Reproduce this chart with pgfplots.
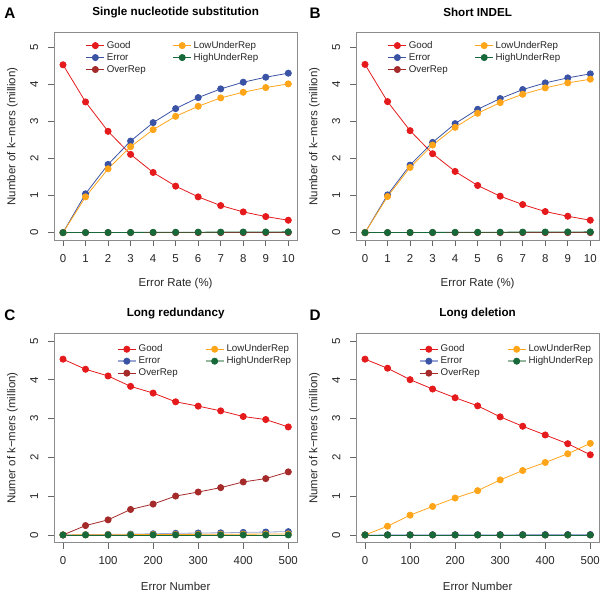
\documentclass[border=0pt]{standalone}
\usepackage{fontspec}
\setmainfont{Liberation Sans}
\usepackage{pgfplots}
\usepackage{pgfplotstable}
\pgfplotsset{compat=1.18}
\definecolor{cGood}{HTML}{E41A1C}
\definecolor{cErr}{HTML}{3A53A4}
\definecolor{cErrL}{HTML}{9AA6D6}
\definecolor{cOver}{HTML}{A52A2A}
\definecolor{cLow}{HTML}{FFA51A}
\definecolor{cHigh}{HTML}{17693A}
\definecolor{cHighL}{HTML}{93B89E}

\pgfplotstableread{
x good error over low high
0 4.54 0 0 0 0
1 3.535 1.05 0 0.967 0.002
2 2.74 1.845 0 1.727 0.004
3 2.116 2.477 0 2.324 0.006
4 1.627 2.975 0 2.785 0.008
5 1.257 3.354 0 3.146 0.010
6 0.967 3.653 0 3.418 0.012
7 0.732 3.888 0 3.644 0.014
8 0.56 4.069 0 3.797 0.016
9 0.434 4.204 0 3.924 0.018
10 0.335 4.313 0 4.023 0.020
}\tabA
\pgfplotstableread{
x good error over low high
0 4.55 0 0 0 0
1 3.544 1.02 0 0.976 0.002
2 2.758 1.826 0 1.763 0.004
3 2.134 2.44 0 2.369 0.006
4 1.655 2.948 0 2.848 0.008
5 1.275 3.336 0 3.228 0.010
6 0.986 3.626 0 3.517 0.012
7 0.759 3.87 0 3.743 0.014
8 0.57 4.05 0 3.915 0.016
9 0.443 4.186 0 4.05 0.018
10 0.335 4.295 0 4.15 0.020
}\tabB
\pgfplotstableread{
x good error over low high
0 4.533 0 0 0 0
50 4.273 0.008 0.242 0.003 0
100 4.10 0.015 0.389 0.005 0
150 3.832 0.022 0.657 0.008 0
200 3.659 0.030 0.796 0.010 0
250 3.434 0.042 1.003 0.013 0
300 3.322 0.050 1.107 0.015 0
350 3.2 0.055 1.22 0.018 0
400 3.054 0.065 1.367 0.020 0
450 2.976 0.075 1.453 0.023 0
500 2.785 0.085 1.626 0.025 0
}\tabC
\pgfplotstableread{
x good error over low high
0 4.533 0 0 0 0
50 4.3 0.002 0 0.225 0
100 4.005 0.003 0 0.51 0
150 3.763 0.004 0 0.735 0
200 3.538 0.005 0 0.952 0
250 3.33 0.006 0 1.142 0
300 3.045 0.007 0 1.419 0
350 2.803 0.008 0 1.661 0
400 2.578 0.009 0 1.869 0
450 2.353 0.010 0 2.093 0
500 2.067 0.010 0 2.362 0
}\tabD

\pgfplotsset{
  Rax/.style={
    scale only axis, width=243.3bp,
    axis line style={black!45, line width=0.8pt},
    tick style={black!60, line width=0.7pt},
    major tick length=6bp, tick align=outside,
    xtick pos=left, ytick pos=left,
    ytick={0,1,2,3,4,5},
    /pgf/number format/assume math mode=true,
    tick label style={font=\fontsize{11.5}{12}\selectfont, text=black!85},
    label style={font=\fontsize{11.5}{12}\selectfont, text=black!85},
    xticklabel style={anchor=center, yshift=-12bp},
    yticklabel style={rotate=90, anchor=center, yshift=13.7bp},
    xlabel style={at={(axis description cs:0.5,0)}, anchor=center, yshift=-43.5bp},
    ylabel style={at={(axis description cs:0,0.5)}, anchor=center, yshift=41.7bp},
    title style={at={(axis description cs:0.5,1)}, anchor=center, yshift=14bp, font=\fontsize{11.7}{12}\bfseries},
    legend style={draw=none, fill=none, anchor=north west, font=\fontsize{9.8}{10}\selectfont,
      nodes={inner xsep=2pt, inner ysep=1pt, text height=7.5pt, text depth=2.5pt}, text=black!85},
    legend image code/.code={\draw[#1, mark repeat=2, mark phase=2] plot coordinates {(0bp,0bp) (9bp,0bp) (18bp,0bp)};},
    legend columns=2, legend cell align=left,
    every axis plot/.append style={line width=0.8pt, mark=*, mark size=3.1pt},
    clip=false,
  },
  ABax/.style={Rax, height=207.6bp, xmin=-0.4, xmax=10.4, ymin=-0.208, ymax=5.408,
    xtick={0,1,...,10}, xlabel={Error Rate (\%)}, ylabel={Number of k−mers (million)},
    legend style={at={(axis cs:0.878,5.28)}, /tikz/every even column/.append style={column sep=25bp}}},
  CDax/.style={Rax, height=209.4bp, xmin=-20, xmax=520, ymin=-0.2, ymax=5.2,
    xtick={0,100,...,500}, xlabel={Error Number}, ylabel={Numer of k−mers (million)},
    legend style={at={(axis cs:112.6,5.0)}, /tikz/every even column/.append style={column sep=25bp}}},
}

\newcommand{\drawseries}[2]{%
  \addplot[color=cGood, mark options={fill=cGood}, forget plot] table[x=x,y=good] {#1};
  \addplot[color=#2, mark options={fill=cErr, draw=cErr}, forget plot] table[x=x,y=error] {#1};
  \addplot[color=cOver, mark options={fill=cOver}, forget plot] table[x=x,y=over] {#1};
  \addplot[color=cLow, mark options={fill=cLow}, forget plot] table[x=x,y=low] {#1};
  \addplot[color=cHigh, mark options={fill=cHigh}, forget plot] table[x=x,y=high] {#1};
}
\newcommand{\legAB}{%
  \addlegendimage{color=cGood, mark options={fill=cGood}}\addlegendentry{Good}
  \addlegendimage{color=cLow, mark options={fill=cLow}}\addlegendentry{LowUnderRep}
  \addlegendimage{color=cErr, mark options={fill=cErr}}\addlegendentry{Error}
  \addlegendimage{color=cHigh, mark options={fill=cHigh}}\addlegendentry{HighUnderRep}
  \addlegendimage{color=cOver, mark options={fill=cOver}}\addlegendentry{OverRep}
}
\newcommand{\legCD}{%
  \addlegendimage{color=cGood, mark options={fill=cGood}}\addlegendentry{Good}
  \addlegendimage{color=cLow, mark options={fill=cLow}}\addlegendentry{LowUnderRep}
  \addlegendimage{color=cErrL, line width=1.8pt, mark options={fill=cErr, draw=cErr, line width=0.8pt}}\addlegendentry{Error}
  \addlegendimage{color=cHighL, line width=1.8pt, mark options={fill=cHigh, draw=cHigh, line width=0.8pt}}\addlegendentry{HighUnderRep}
  \addlegendimage{color=cOver, mark options={fill=cOver}}\addlegendentry{OverRep}
}

\begin{document}
\begin{tikzpicture}
\useasboundingbox (0,0) rectangle (605bp,-593bp);
\begin{axis}[ABax, name=A, at={(54bp,-32.7bp)}, anchor=north west, title={Single nucleotide substitution}]
\legAB
\drawseries{\tabA}{cErr}
\end{axis}
\node[font=\fontsize{15.3}{16}\bfseries, anchor=center] at ([xshift=-44bp, yshift=19.4bp]A.north west) {A};

\begin{axis}[ABax, name=B, at={(356bp,-32.7bp)}, anchor=north west, title={Short INDEL}]
\legAB
\drawseries{\tabB}{cErr}
\end{axis}
\node[font=\fontsize{15.3}{16}\bfseries, anchor=center] at ([xshift=-41bp, yshift=19.4bp]B.north west) {B};

\begin{axis}[CDax, name=C, at={(54bp,-333.3bp)}, anchor=north west, title={Long redundancy}]
\legCD
\drawseries{\tabC}{cErrL}
\end{axis}
\node[font=\fontsize{15.3}{16}\bfseries, anchor=center] at ([xshift=-44bp, yshift=18.3bp]C.north west) {C};

\begin{axis}[CDax, name=D, at={(356bp,-333.3bp)}, anchor=north west, title={Long deletion}]
\legCD
\drawseries{\tabD}{cErrL}
\end{axis}
\node[font=\fontsize{15.3}{16}\bfseries, anchor=center] at ([xshift=-41bp, yshift=18.3bp]D.north west) {D};
\end{tikzpicture}
\end{document}
